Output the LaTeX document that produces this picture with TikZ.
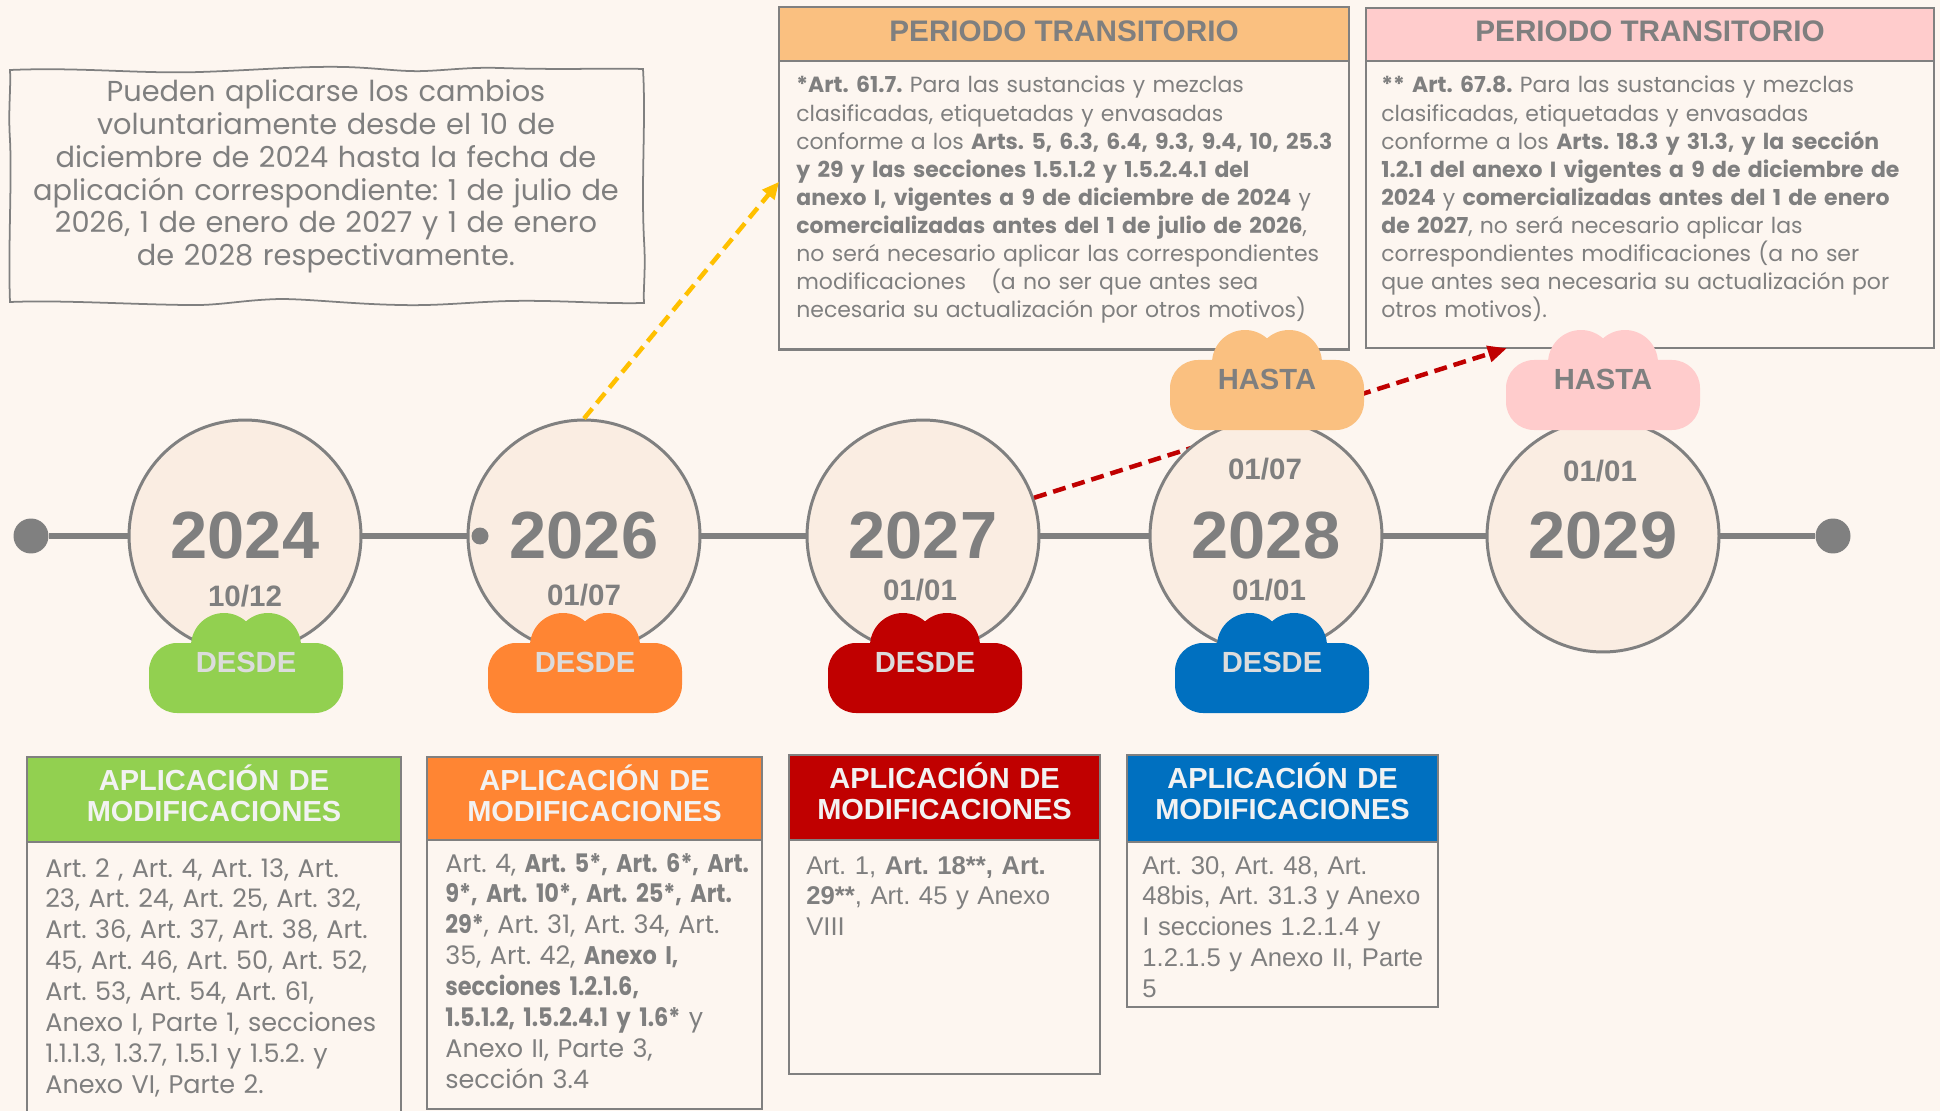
\documentclass[tikz,border=0pt]{standalone}
\usepackage{fontspec}
\setmainfont{Liberation Sans}
\newfontfamily\gothic[Numbers=Monospaced]{Poppins}
\newfontfamily\gothicap[Numbers=Monospaced, BoldFeatures={FakeStretch=0.88}]{Poppins}
\usepackage{tikz}
\usetikzlibrary{shapes,arrows.meta,decorations.pathmorphing,backgrounds,positioning,calc}

\definecolor{bgcream}{RGB}{253,246,240}
\definecolor{circfill}{RGB}{250,237,226}
\definecolor{linegray}{RGB}{128,128,128}
\definecolor{txtgray}{RGB}{127,127,127}
\definecolor{gGreen}{RGB}{146,208,80}
\definecolor{gOrange}{RGB}{255,133,51}
\definecolor{gRed}{RGB}{192,0,0}
\definecolor{gBlue}{RGB}{0,112,192}
\definecolor{gPeach}{RGB}{250,192,128}
\definecolor{gPink}{RGB}{255,204,204}
\definecolor{gYellow}{RGB}{255,192,0}
\definecolor{headwhite}{RGB}{242,242,242}
\definecolor{cloudtxt}{RGB}{220,220,220}

\newcommand{\fs}[2]{\fontsize{#1}{#2}\selectfont}
% cloud: centre x, centre y, colour
\newcommand{\Cloud}[3]{%
  \fill[#3, rounded corners=0.56cm] (#1-97,#2-20) rectangle (#1+97,#2+50);
  \fill[#3] (#1-22,#2-17) circle (0.66cm);
  \fill[#3] (#1+22,#2-17) circle (0.66cm);
}

\begin{document}
\frenchspacing
\begin{tikzpicture}[x=0.02cm, y=-0.02cm]
			\tikzstyle{Year}		= [circle, draw=linegray, line width=1.7pt, fill=circfill, minimum size=4.64cm, inner sep=0pt, text=txtgray, font=\bfseries\fs{38}{38}]
			\tikzstyle{Date}		= [inner sep=0pt, text=txtgray, font=\bfseries\fs{16.8}{17}]
			\tikzstyle{Dot}		= [circle, fill=linegray, inner sep=0pt, minimum size=0.7cm]
			\tikzstyle{Axis}		= [line width=0.12cm, linegray]
			\tikzstyle{CloudText}	= [inner sep=0pt, font=\bfseries\fs{16.6}{17}]
			\tikzstyle{Desde}		= [CloudText, text=cloudtxt]
			\tikzstyle{Hasta}		= [CloudText, text=txtgray]
			\tikzstyle{Frame}		= [rectangle, draw=linegray, line width=1.4pt, inner sep=0pt, outer sep=0pt]
			\tikzstyle{PerHead}	= [Frame, minimum height=1.07cm, text depth=0.12cm, text=txtgray, font=\bfseries\fs{16.9}{17}]
			\tikzstyle{ApHead}	= [Frame]
			\tikzstyle{ApLabel}	= [anchor=base, inner sep=0pt, text width=7cm, align=center, text=headwhite, font=\bfseries\fs{16.5}{18.2}]
			\tikzstyle{Body}		= [Frame, fill=bgcream]
			\tikzstyle{PerText}	= [anchor=base west, inner sep=0pt, text width=12cm, align=left, text=txtgray, font=\gothic\fs{12.5}{16}]
			\tikzstyle{ApText}	= [anchor=base west, inner sep=0pt, text width=8cm, align=left, text=txtgray]
			\tikzstyle{NoteText}	= [anchor=base, inner sep=0pt, text width=13cm, align=center, text=txtgray, font=\gothic\fs{16.4}{18.6}]
			\tikzstyle{Wavy}		= [draw=linegray, line width=1pt]
			\tikzstyle{YArrow}	= [gYellow, line width=0.09cm, dash pattern=on 0.26cm off 0.14cm, -{Triangle[length=0.34cm, width=0.3cm]}]
			\tikzstyle{RArrow}	= [gRed, line width=0.09cm, dash pattern=on 0.26cm off 0.14cm, -{Triangle[length=0.38cm, width=0.32cm]}]

			\useasboundingbox (0,0) rectangle (1940,1111);
			\clip (0,0) rectangle (1940,1111);
			\fill[bgcream] (0,0) rectangle (1940,1111);

			% voluntary note
			\draw[Wavy] (10,70) .. controls (80,67) and (140,74) .. (200,72) .. controls (260,70) and (300,66) .. (345,67)
				.. controls (380,68) and (400,72) .. (425,71) .. controls (450,70) and (470,67) .. (500,68)
				.. controls (560,70) and (610,68) .. (643,69) .. controls (646,120) and (641,180) .. (644,240)
				.. controls (646,270) and (643,290) .. (644,303) .. controls (600,304) and (560,300) .. (510,301)
				.. controls (470,302) and (440,306) .. (400,305) .. controls (350,304) and (310,299) .. (280,299)
				.. controls (240,300) and (220,306) .. (185,305) .. controls (120,304) and (60,300) .. (10,302)
				.. controls (8,250) and (12,180) .. (10,140) .. controls (8,110) and (11,90) .. (10,70) -- cycle;
			\node (note) at (326,102) [NoteText] {Pueden aplicarse los cambios\\voluntariamente desde el 10 de\\diciembre de 2024 hasta la fecha de\\aplicación correspondiente: 1 de julio de\\2026, 1 de enero de 2027 y 1 de enero\\de 2028 respectivamente.};

			% transitional periods
			\node (tr1h) at (1064,34) [PerHead, fill=gPeach, minimum width=11.4cm] {PERIODO TRANSITORIO};
			\node (tr1) [Body, minimum width=11.4cm, minimum height=5.78cm, below=0pt of tr1h] {};
			\node (tr1t) at (796,93) [PerText] {{\bfseries *Art. 61.7.} Para las sustancias y mezclas\\
				clasificadas, etiquetadas y envasadas\\
				conforme a los {\bfseries Arts. 5, 6.3, 6.4, 9.3, 9.4, 10, 25.3}\\
				{\bfseries y 29 y las secciones 1.5.1.2 y 1.5.2.4.1 del}\\
				{\bfseries anexo I, vigentes a 9 de diciembre de 2024} y\\
				{\bfseries comercializadas antes del 1 de julio de 2026},\\
				no será necesario aplicar las correspondientes\\
				modificaciones\hspace{0.5cm}(a no ser que antes sea\\
				necesaria su actualización por otros motivos)};

			\node (tr2h) at (1650,34.5) [PerHead, fill=gPink, minimum width=11.36cm] {PERIODO TRANSITORIO};
			\node (tr2) [Body, minimum width=11.36cm, minimum height=5.74cm, below=0pt of tr2h] {};
			\node (tr2t) at (1381,93) [PerText] {{\bfseries ** Art. 67.8.} Para las sustancias y mezclas\\
				clasificadas, etiquetadas y envasadas\\
				conforme a los {\bfseries Arts. 18.3 y 31.3, y la sección}\\
				{\bfseries 1.2.1 del anexo I vigentes a 9 de diciembre de}\\
				{\bfseries 2024} y {\bfseries comercializadas antes del 1 de enero}\\
				{\bfseries de 2027}, no será necesario aplicar las\\
				correspondientes modificaciones (a no ser\\
				que antes sea necesaria su actualización por\\
				otros motivos).};

			% modifications
			\node (ap24h) at (214,799.5) [ApHead, fill=gGreen, minimum width=7.48cm, minimum height=1.7cm] {};
			\node (ap24l) at (214,790) [ApLabel] {APLICACIÓN DE\\MODIFICACIONES};
			\node (ap24) [Body, minimum width=7.48cm, minimum height=6cm, below=0pt of ap24h] {};
			\node (ap24t) at (45,877) [ApText, font=\gothicap\fs{14.5}{17.6}] {Art. 2 , Art. 4, Art. 13, Art.\\
				23, Art. 24, Art. 25, Art. 32,\\
				Art. 36, Art. 37, Art. 38, Art.\\
				45, Art. 46, Art. 50, Art. 52,\\
				Art. 53, Art. 54, Art. 61,\\
				Anexo I, Parte 1, secciones\\
				1.1.1.3, 1.3.7, 1.5.1 y 1.5.2. y\\
				Anexo VI, Parte 2.};

			\node (ap26h) at (594.5,798.5) [ApHead, fill=gOrange, minimum width=6.7cm, minimum height=1.66cm] {};
			\node (ap26l) at (594.5,790) [ApLabel] {APLICACIÓN DE\\MODIFICACIONES};
			\node (ap26) [Body, minimum width=6.7cm, minimum height=5.38cm, below=0pt of ap26h] {};
			\node (ap26t) at (445,872) [ApText, font=\gothicap\fs{14.5}{17.6}] {Art. 4, {\bfseries Art. 5*, Art. 6*, Art.}\\
				{\bfseries 9*, Art. 10*, Art. 25*, Art.}\\
				{\bfseries 29*}, Art. 31, Art. 34, Art.\\
				35, Art. 42, {\bfseries Anexo I,}\\
				{\bfseries secciones 1.2.1.6,}\\
				{\bfseries 1.5.1.2, 1.5.2.4.1 y 1.6*} y\\
				Anexo II, Parte 3,\\
				sección 3.4};

			\node (ap27h) at (944.5,797.5) [ApHead, fill=gRed, minimum width=6.22cm, minimum height=1.7cm] {};
			\node (ap27l) at (944.5,788) [ApLabel] {APLICACIÓN DE\\MODIFICACIONES};
			\node (ap27) [Body, minimum width=6.22cm, minimum height=4.68cm, below=0pt of ap27h] {};
			\node (ap27t) at (806,874) [ApText, font=\fs{14.6}{17.6}] {Art. 1, {\bfseries Art. 18**, Art.}\\
				{\bfseries 29**}, Art. 45 y Anexo\\
				VIII};

			\node (ap28h) at (1282.5,798.5) [ApHead, fill=gBlue, minimum width=6.22cm, minimum height=1.74cm] {};
			\node (ap28l) at (1282.5,788) [ApLabel] {APLICACIÓN DE\\MODIFICACIONES};
			\node (ap28) [Body, minimum width=6.22cm, minimum height=3.3cm, below=0pt of ap28h] {};
			\node (ap28t) at (1142,874) [ApText, font=\fs{14.6}{17.6}] {Art. 30, Art. 48, Art.\\
				48bis, Art. 31.3 y Anexo\\
				I secciones 1.2.1.4 y\\
				1.2.1.5 y Anexo II, Parte\\
				5};

			% timeline
			\node (dotL) at (31,536) [Dot] {};
			\node (dotR) at (1833,536) [Dot] {};
			\node (c2024) at (245,536) [Year] {2024};
			\node (c2026) at (584,536) [Year] {2026};
			\node (c2027) at (923,536) [Year] {2027};

			\draw [YArrow] (c2026.north) -- ($(tr1.north west)!0.419!(tr1.south west)$);
			\draw [RArrow] (c2027.19) -- ($(tr2.south west)!0.248!(tr2.south east)$);

			\node (c2028) at (1266,536) [Year] {2028};
			\node (c2029) at (1603,536) [Year] {2029};
			\draw [Axis] (dotL) -- (c2024) -- (c2026) -- (c2027) -- (c2028) -- (c2029) -- (dotR);
			\node (dotS) at (480,536) [Dot, minimum size=0.34cm] {};

			\node (dt24) at (245,596) [Date] {10/12};
			\node (dt26) at (584,595) [Date] {01/07};
			\node (dt27) at (920,590) [Date] {01/01};
			\node (dt28a) at (1265,469) [Date] {01/07};
			\node (dt28b) at (1269,590) [Date] {01/01};
			\node (dt29) at (1600,471) [Date] {01/01};

			% clouds
			\Cloud{246}{663}{gGreen}
			\Cloud{585}{663}{gOrange}
			\Cloud{925}{663}{gRed}
			\Cloud{1272}{663}{gBlue}
			\Cloud{1267}{380}{gPeach}
			\Cloud{1603}{380}{gPink}
			\node (ds24) at (246,662) [Desde] {DESDE};
			\node (ds26) at (585,662) [Desde] {DESDE};
			\node (ds27) at (925,662) [Desde] {DESDE};
			\node (ds28) at (1272,662) [Desde] {DESDE};
			\node (hs28) at (1267,379) [Hasta] {HASTA};
			\node (hs29) at (1603,379) [Hasta] {HASTA};

		\end{tikzpicture}
\end{document}
